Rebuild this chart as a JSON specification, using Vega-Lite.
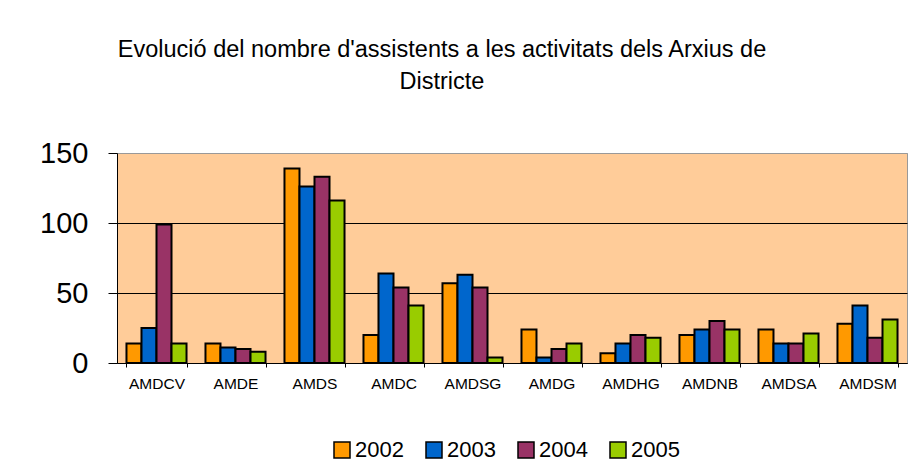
{
  "$schema": "https://vega.github.io/schema/vega-lite/v6.json",
  "width": 790,
  "height": 210,
  "autosize": {"type": "none"},
  "padding": {"left": 117, "top": 153, "right": 7, "bottom": 102},
  "background": "white",
  "title": {
    "text": ["Evolució del nombre d'assistents a les activitats dels Arxius de", "Districte"],
    "font": "Liberation Sans",
    "fontSize": 23.5,
    "fontWeight": "normal",
    "color": "black",
    "anchor": "middle",
    "dx": -70,
    "offset": 46,
    "lineHeight": 32
  },
  "data": {
    "values": [
      {"arxiu": "AMDCV", "any": "2002", "valor": 14},
      {"arxiu": "AMDCV", "any": "2003", "valor": 25},
      {"arxiu": "AMDCV", "any": "2004", "valor": 99},
      {"arxiu": "AMDCV", "any": "2005", "valor": 14},
      {"arxiu": "AMDE", "any": "2002", "valor": 14},
      {"arxiu": "AMDE", "any": "2003", "valor": 11},
      {"arxiu": "AMDE", "any": "2004", "valor": 10},
      {"arxiu": "AMDE", "any": "2005", "valor": 8},
      {"arxiu": "AMDS", "any": "2002", "valor": 139},
      {"arxiu": "AMDS", "any": "2003", "valor": 126},
      {"arxiu": "AMDS", "any": "2004", "valor": 133},
      {"arxiu": "AMDS", "any": "2005", "valor": 116},
      {"arxiu": "AMDC", "any": "2002", "valor": 20},
      {"arxiu": "AMDC", "any": "2003", "valor": 64},
      {"arxiu": "AMDC", "any": "2004", "valor": 54},
      {"arxiu": "AMDC", "any": "2005", "valor": 41},
      {"arxiu": "AMDSG", "any": "2002", "valor": 57},
      {"arxiu": "AMDSG", "any": "2003", "valor": 63},
      {"arxiu": "AMDSG", "any": "2004", "valor": 54},
      {"arxiu": "AMDSG", "any": "2005", "valor": 4},
      {"arxiu": "AMDG", "any": "2002", "valor": 24},
      {"arxiu": "AMDG", "any": "2003", "valor": 4},
      {"arxiu": "AMDG", "any": "2004", "valor": 10},
      {"arxiu": "AMDG", "any": "2005", "valor": 14},
      {"arxiu": "AMDHG", "any": "2002", "valor": 7},
      {"arxiu": "AMDHG", "any": "2003", "valor": 14},
      {"arxiu": "AMDHG", "any": "2004", "valor": 20},
      {"arxiu": "AMDHG", "any": "2005", "valor": 18},
      {"arxiu": "AMDNB", "any": "2002", "valor": 20},
      {"arxiu": "AMDNB", "any": "2003", "valor": 24},
      {"arxiu": "AMDNB", "any": "2004", "valor": 30},
      {"arxiu": "AMDNB", "any": "2005", "valor": 24},
      {"arxiu": "AMDSA", "any": "2002", "valor": 24},
      {"arxiu": "AMDSA", "any": "2003", "valor": 14},
      {"arxiu": "AMDSA", "any": "2004", "valor": 14},
      {"arxiu": "AMDSA", "any": "2005", "valor": 21},
      {"arxiu": "AMDSM", "any": "2002", "valor": 28},
      {"arxiu": "AMDSM", "any": "2003", "valor": 41},
      {"arxiu": "AMDSM", "any": "2004", "valor": 18},
      {"arxiu": "AMDSM", "any": "2005", "valor": 31}
    ]
  },
  "mark": {"type": "bar", "stroke": "black", "strokeWidth": 2},
  "encoding": {
    "x": {
      "field": "arxiu",
      "type": "nominal",
      "sort": null,
      "scale": {"paddingInner": 0.24, "paddingOuter": 0.12},
      "axis": {
        "title": null,
        "labelAngle": 0,
        "labelFont": "Liberation Sans",
        "labelFontSize": 15.5,
        "labelColor": "black",
        "labelPadding": 9,
        "tickBand": "extent",
        "tickSize": 4,
        "tickColor": "black",
        "domainColor": "black",
        "domainWidth": 1,
        "grid": false
      }
    },
    "xOffset": {"field": "any", "type": "nominal", "scale": {"paddingInner": 0, "paddingOuter": 0}},
    "y": {
      "field": "valor",
      "type": "quantitative",
      "scale": {"domain": [0, 150], "nice": false},
      "axis": {
        "title": null,
        "values": [0, 50, 100, 150],
        "labelFont": "Liberation Sans",
        "labelFontSize": 29,
        "labelColor": "black",
        "labelPadding": 20,
        "tickSize": 9,
        "tickColor": "black",
        "domainColor": "black",
        "grid": true,
        "gridColor": {"condition": {"test": "datum.value == 150", "value": "#999999"}, "value": "black"},
        "gridOpacity": 1,
        "gridWidth": 1
      }
    },
    "color": {
      "field": "any",
      "type": "nominal",
      "scale": {"domain": ["2002", "2003", "2004", "2005"], "range": ["#FF9900", "#0066CC", "#993366", "#99CC00"]},
      "legend": {
        "title": null,
        "orient": "none",
        "legendX": 214,
        "legendY": 286,
        "direction": "horizontal",
        "padding": 0,
        "symbolType": "square",
        "symbolSize": 256,
        "symbolStrokeColor": "black",
        "symbolStrokeWidth": 1.5,
        "symbolOpacity": 1,
        "labelFont": "Liberation Sans",
        "labelFontSize": 22,
        "labelColor": "black",
        "labelOffset": 2,
        "columnPadding": 19
      }
    }
  },
  "config": {
    "view": {"fill": "#FFCC99", "stroke": "#999999", "strokeWidth": 1}
  }
}
